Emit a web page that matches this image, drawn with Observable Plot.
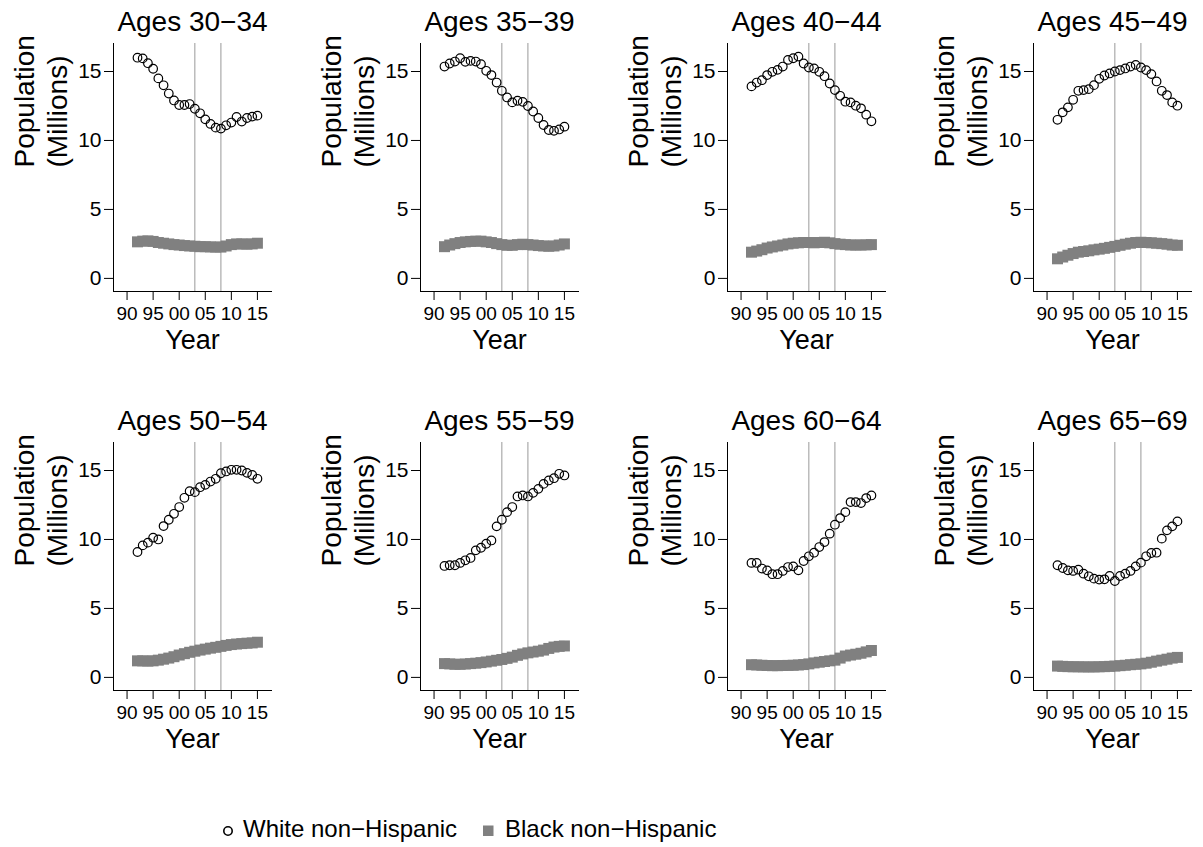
<!DOCTYPE html>
<html>
<head>
<meta charset="utf-8">
<script src="https://cdn.jsdelivr.net/npm/d3@7"></script>
<script src="https://cdn.jsdelivr.net/npm/@observablehq/plot@0.6"></script>
<style>
  html, body { margin: 0; padding: 0; background: #fff; }
  #page { position: relative; width: 1203px; height: 847px; overflow: hidden; background: #fff;
          font-family: "Liberation Sans", Arial, Helvetica, sans-serif; }
  .panel { position: absolute; }
  .panel svg { overflow: visible; }
  #legend { position: absolute; left: 0; top: 800px; }
</style>
</head>
<body>
<div id="page"></div>
<script>
// ---- data ----
const years = [1992, 1993, 1994, 1995, 1996, 1997, 1998, 1999, 2000, 2001, 2002, 2003,
               2004, 2005, 2006, 2007, 2008, 2009, 2010, 2011, 2012, 2013, 2014, 2015];
const ageGroups = ["Ages 30−34", "Ages 35−39", "Ages 40−44", "Ages 45−49",
                   "Ages 50−54", "Ages 55−59", "Ages 60−64", "Ages 65−69"];
const seriesNames = ["White non−Hispanic", "Black non−Hispanic"];
const markerYears = [2003, 2008];
const xTicks = [1990, 1995, 2000, 2005, 2010, 2015];
const xTickLabels = ["90", "95", "00", "05", "10", "15"];
const yTicks = [0, 5, 10, 15];
const yLabelLines = ["Population", "(Millions)"];
const xLabel = "Year";

// White non-Hispanic population (millions)
const white3034 = [16.0, 15.95, 15.6, 15.2, 14.5, 14.0, 13.4, 12.9, 12.57, 12.57, 12.64, 12.3,
                   11.97, 11.53, 11.2, 10.93, 10.86, 11.1, 11.3, 11.7, 11.37, 11.63, 11.73, 11.8];
const white3539 = [15.36, 15.58, 15.72, 15.96, 15.7, 15.77, 15.72, 15.53, 15.05, 14.74, 14.2, 13.6,
                   13.12, 12.76, 12.88, 12.8, 12.5, 12.1, 11.63, 11.12, 10.76, 10.7, 10.8, 11.0];
const white4044 = [13.92, 14.2, 14.37, 14.74, 14.98, 15.12, 15.36, 15.84, 15.96, 16.08, 15.58, 15.29,
                   15.22, 14.98, 14.66, 14.13, 13.65, 13.24, 12.81, 12.76, 12.52, 12.33, 11.87, 11.39];
const white4549 = [11.5, 12.04, 12.4, 12.95, 13.6, 13.65, 13.72, 14.01, 14.47, 14.71, 14.86, 15.0,
                   15.1, 15.22, 15.36, 15.48, 15.29, 15.1, 14.81, 14.28, 13.6, 13.29, 12.76, 12.52];
const white5054 = [9.09, 9.57, 9.77, 10.13, 10.0, 10.97, 11.43, 11.86, 12.35, 13.02, 13.5, 13.43,
                   13.79, 13.96, 14.2, 14.4, 14.8, 14.93, 15.05, 15.05, 15.0, 14.83, 14.68, 14.4];
const white5559 = [8.08, 8.13, 8.13, 8.3, 8.49, 8.66, 9.21, 9.4, 9.69, 9.93, 10.95, 11.43,
                   11.98, 12.35, 13.12, 13.19, 13.12, 13.38, 13.67, 14.03, 14.28, 14.44, 14.76, 14.64];
const white6064 = [8.3, 8.3, 7.89, 7.76, 7.48, 7.48, 7.72, 8.0, 8.05, 7.76, 8.44, 8.78,
                   9.04, 9.45, 9.81, 10.42, 11.07, 11.55, 11.98, 12.71, 12.71, 12.64, 13.0, 13.19];
const white6569 = [8.13, 7.93, 7.76, 7.72, 7.81, 7.52, 7.33, 7.16, 7.09, 7.11, 7.35, 6.99,
                   7.35, 7.52, 7.72, 8.05, 8.32, 8.78, 9.02, 9.04, 10.06, 10.66, 10.95, 11.31];

// Black non-Hispanic population (millions)
const black3034 = [2.65, 2.7, 2.72, 2.68, 2.6, 2.55, 2.5, 2.45, 2.42, 2.38, 2.35, 2.33,
                   2.3, 2.3, 2.28, 2.27, 2.27, 2.35, 2.45, 2.5, 2.5, 2.48, 2.5, 2.55];
const black3539 = [2.3, 2.42, 2.52, 2.6, 2.65, 2.68, 2.7, 2.7, 2.65, 2.6, 2.52, 2.45,
                   2.4, 2.4, 2.45, 2.48, 2.45, 2.42, 2.38, 2.35, 2.33, 2.35, 2.42, 2.5];
const black4044 = [1.9, 1.98, 2.08, 2.2, 2.28, 2.35, 2.42, 2.5, 2.55, 2.58, 2.6, 2.6,
                   2.58, 2.6, 2.62, 2.58, 2.52, 2.48, 2.45, 2.42, 2.42, 2.42, 2.43, 2.45];
const black4549 = [1.42, 1.55, 1.68, 1.8, 1.9, 1.95, 2.0, 2.07, 2.12, 2.18, 2.25, 2.32,
                   2.4, 2.48, 2.55, 2.6, 2.62, 2.6, 2.58, 2.55, 2.52, 2.48, 2.42, 2.4];
const black5054 = [1.2, 1.2, 1.18, 1.2, 1.25, 1.32, 1.4, 1.5, 1.62, 1.72, 1.82, 1.9,
                   1.98, 2.05, 2.12, 2.18, 2.25, 2.32, 2.38, 2.42, 2.45, 2.48, 2.5, 2.55];
const black5559 = [1.0, 0.98, 0.95, 0.95, 0.97, 1.0, 1.03, 1.07, 1.12, 1.18, 1.24, 1.3,
                   1.38, 1.47, 1.6, 1.7, 1.78, 1.84, 1.9, 1.98, 2.1, 2.2, 2.25, 2.28];
const black6064 = [0.92, 0.9, 0.88, 0.86, 0.85, 0.85, 0.86, 0.87, 0.88, 0.9, 0.93, 0.98,
                   1.05, 1.1, 1.15, 1.2, 1.25, 1.4, 1.55, 1.62, 1.68, 1.75, 1.85, 1.95];
const black6569 = [0.82, 0.8, 0.78, 0.77, 0.77, 0.76, 0.76, 0.76, 0.77, 0.78, 0.8, 0.82,
                   0.85, 0.88, 0.92, 0.95, 0.98, 1.03, 1.1, 1.18, 1.25, 1.32, 1.4, 1.45];

const whiteSeries = [white3034, white3539, white4044, white4549, white5054, white5559, white6064, white6569];
const blackSeries = [black3034, black3539, black4044, black4549, black5054, black5559, black6064, black6569];

// ---- layout / style ----
const xDomain = [1987.4, 2017.7];
const yDomain = [-0.95, 17.03];
const colLeft = [13, 320, 627, 933];
const rowTop = [0, 399];
const font = '"Liberation Sans", Arial, Helvetica, sans-serif';
const squareColor = "#808080";

const page = document.getElementById("page");

ageGroups.forEach((title, i) => {
  const white = years.map((year, j) => ({year, value: whiteSeries[i][j]}));
  const black = years.map((year, j) => ({year, value: blackSeries[i][j]}));
  const chart = Plot.plot({
    width: 268,
    height: 399,
    marginLeft: 100,
    marginRight: 10,
    marginTop: 43,
    marginBottom: 108,
    style: {fontFamily: font, background: "transparent", color: "#000", overflow: "visible"},
    x: {domain: xDomain, label: null},
    y: {domain: yDomain, label: null},
    marks: [
      Plot.frame({anchor: "left", stroke: "#000"}),
      Plot.frame({anchor: "bottom", stroke: "#000"}),
      Plot.axisX({ticks: xTicks, tickFormat: (d) => xTickLabels[xTicks.indexOf(d)],
                  tickSize: 9, tickPadding: 6, fontSize: 19, label: null}),
      Plot.axisY({ticks: yTicks, tickSize: 9, tickPadding: 3, fontSize: 21, label: null}),
      Plot.ruleX(markerYears, {stroke: "#999", strokeWidth: 1}),
      Plot.dot(black, {x: "year", y: "value", symbol: "square", r: 6.2, fill: squareColor, stroke: null}),
      Plot.dot(white, {x: "year", y: "value", r: 4.3, stroke: "#000", strokeWidth: 1.2, fill: "none"}),
      Plot.text([title], {frameAnchor: "top", dy: -13, lineAnchor: "bottom", fontSize: 28, fill: "#000"}),
      Plot.text([xLabel], {frameAnchor: "bottom", dy: 57, lineAnchor: "bottom", fontSize: 27, fill: "#000"}),
      Plot.text([yLabelLines[0]], {frameAnchor: "left", rotate: -90, dx: -80, lineAnchor: "bottom", fontSize: 28, fill: "#000"}),
      Plot.text([yLabelLines[1]], {frameAnchor: "left", rotate: -90, dx: -47, lineAnchor: "bottom", fontSize: 28, fill: "#000"})
    ]
  });
  const wrap = document.createElement("div");
  wrap.className = "panel";
  wrap.style.left = colLeft[i % 4] + "px";
  wrap.style.top = rowTop[Math.floor(i / 4)] + "px";
  wrap.appendChild(chart);
  page.appendChild(wrap);
});

// ---- legend ----
const ns = "http://www.w3.org/2000/svg";
const leg = document.createElementNS(ns, "svg");
leg.setAttribute("id", "legend");
leg.setAttribute("width", 1203);
leg.setAttribute("height", 47);
leg.style.fontFamily = font;
const circ = document.createElementNS(ns, "circle");
circ.setAttribute("cx", 228); circ.setAttribute("cy", 31);
circ.setAttribute("r", 4.2); circ.setAttribute("fill", "none");
circ.setAttribute("stroke", "#000"); circ.setAttribute("stroke-width", 1.6);
leg.appendChild(circ);
const sq = document.createElementNS(ns, "rect");
sq.setAttribute("x", 483); sq.setAttribute("y", 25.5);
sq.setAttribute("width", 10.5); sq.setAttribute("height", 10.5);
sq.setAttribute("fill", squareColor);
leg.appendChild(sq);
[[243, seriesNames[0]], [505, seriesNames[1]]].forEach(([x, t]) => {
  const tx = document.createElementNS(ns, "text");
  tx.setAttribute("x", x); tx.setAttribute("y", 37);
  tx.setAttribute("font-size", 24);
  tx.setAttribute("fill", "#000");
  tx.textContent = t;
  leg.appendChild(tx);
});
page.appendChild(leg);
</script>
</body>
</html>
